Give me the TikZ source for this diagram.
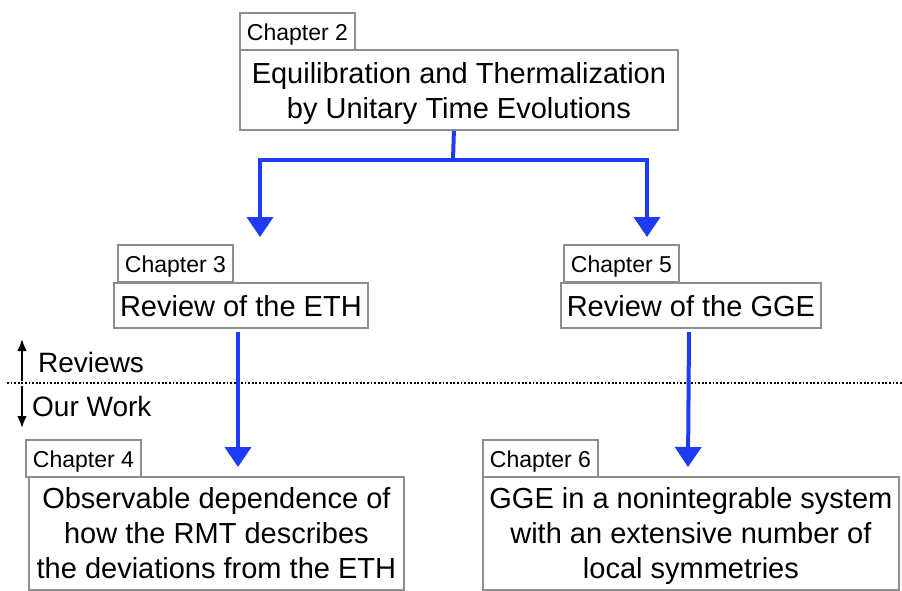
\documentclass[tikz,border=0pt]{standalone}
\usepackage{fontspec}
\setmainfont{Liberation Sans}
\usetikzlibrary{arrows.meta}
\definecolor{boxgray}{RGB}{140,142,146}
\definecolor{flowblue}{RGB}{30,60,245}
\newcommand\topstrut[1]{\rule{0pt}{#1}}
\newcommand\botstrut[1]{\rule[-#1]{0pt}{#1}}
\begin{document}
\begin{tikzpicture}[x=1pt,y=-1pt,
  box/.style={draw=boxgray, line width=1.8pt, fill=white, inner xsep=0pt, inner ysep=0pt,
    anchor=north west, align=center, font=\fontsize{29}{35}\selectfont},
  tabbox/.style={box, font=\fontsize{23}{28}\selectfont, minimum width=115pt, minimum height=37pt},
  flow/.style={draw=flowblue, line width=4pt, -{Triangle[width=26pt,length=20pt]}},
  plain/.style={draw=flowblue, line width=4pt},
  side/.style={draw=black, line width=2.4pt, -{Latex[width=10pt,length=12pt]}},
  lbl/.style={anchor=base west, inner sep=0pt, font=\fontsize{28}{34}\selectfont}]
\useasboundingbox (0,0) rectangle (902,590);

% divider
\draw[line width=1.6pt, dash pattern=on 1.8pt off 1.8pt] (7,383) -- (902,383);

% tabs
\node[tabbox] (tab2) at (239,12) {\botstrut{6pt}\topstrut{24pt}Chapter 2};
\node[tabbox] (tab3) at (117,244) {\botstrut{6pt}\topstrut{24pt}Chapter 3};
\node[tabbox] (tab5) at (563,244) {\botstrut{6pt}\topstrut{24pt}Chapter 5};
\node[tabbox] (tab4) at (25,439) {\botstrut{6pt}\topstrut{24pt}Chapter 4};
\node[tabbox] (tab6) at (482,439) {\botstrut{6pt}\topstrut{24pt}Chapter 6};

% main boxes
\node[box, minimum width=438pt, minimum height=80pt] (ch2) at (239,49)
  {\topstrut{31pt}Equilibration and Thermalization\\by Unitary Time Evolutions\botstrut{8pt}};
\node[box, minimum width=254pt, minimum height=45pt] (eth) at (113,282)
  {\topstrut{23.4pt}Review of the ETH\botstrut{1pt}};
\node[box, minimum width=260pt, minimum height=45pt] (gge) at (560,282)
  {\topstrut{23.4pt}Review of the GGE\botstrut{1pt}};
\node[box, minimum width=375pt, minimum height=113pt] (ch4) at (28,476)
  {\topstrut{27.6pt}Observable dependence of\\how the RMT describes\\the deviations from the ETH\botstrut{7pt}};
\node[box, minimum width=416pt, minimum height=113pt] (ch6) at (482,476)
  {\topstrut{27.6pt}GGE in a nonintegrable system\\with an extensive number of\\local symmetries\botstrut{7pt}};

% connectors
\coordinate (split) at (453,160);
\coordinate (t3) at (260,237);
\coordinate (t5) at (647,237);
\draw[plain] ([xshift=-5pt]ch2.south) -- (split);
\draw[flow] (split) -| (t3);
\draw[flow] (split) -| (t5);

\coordinate (s4) at (238,332);
\coordinate (t4) at (238,467);
\coordinate (s6) at (689,332);
\coordinate (t6) at (688,467);
\draw[flow] (s4) -- (t4);
\draw[flow] (s6) -- (t6);

% side legend
\coordinate (ua) at (22,381);
\coordinate (ub) at (22,339);
\coordinate (da) at (22,386);
\coordinate (db) at (22,428);
\draw[side] (ua) -- (ub);
\draw[side] (da) -- (db);
\node[lbl] (rev) at (38,372) {Reviews};
\node[lbl] (our) at (32,416) {Our Work};
\end{tikzpicture}
\end{document}
